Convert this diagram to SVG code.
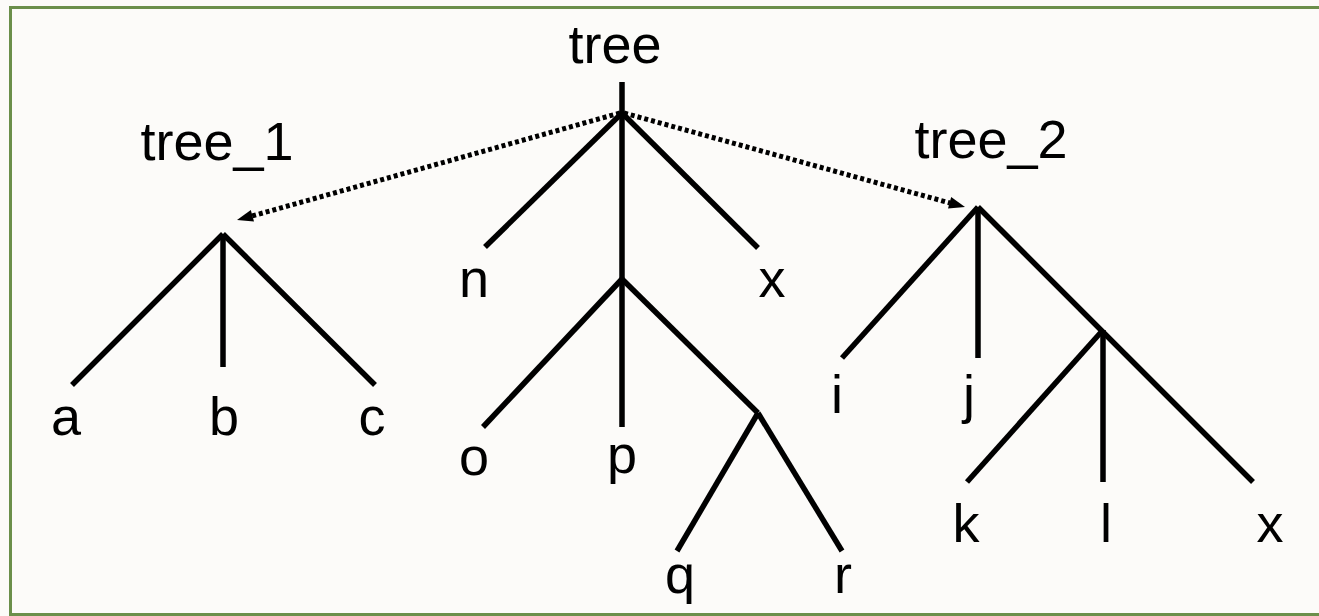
<svg xmlns="http://www.w3.org/2000/svg" width="1319" height="616" viewBox="0 0 1319 616">
<style>
.edge{stroke:#000;stroke-width:5.5;fill:none;stroke-linecap:butt}
.dot{stroke:#000;stroke-width:5;fill:none;stroke-dasharray:4 3}
.head{fill:#000}
text{font-family:"Liberation Sans",Arial,sans-serif;font-size:54px;fill:#000;text-anchor:middle}
</style>
<rect x="0" y="0" width="1319" height="616" fill="#fcfbf9"/>
<rect x="10.5" y="7.5" width="1320" height="607" fill="none" stroke="#6b8f4b" stroke-width="3"/>
<g id="connectors">
<path class="edge" d="M622,82 V427"/>
<path class="edge" d="M622,113 L485,247"/>
<path class="edge" d="M622,113 L758,248"/>
<path class="edge" d="M622,279 L483,427"/>
<path class="edge" d="M622,279 L758,413"/>
<path class="edge" d="M758,413 L677,551"/>
<path class="edge" d="M758,413 L842,551"/>
<path class="edge" d="M223,234 L72,385"/>
<path class="edge" d="M223,234 V367"/>
<path class="edge" d="M223,234 L375,385"/>
<path class="edge" d="M978,207 L842,358"/>
<path class="edge" d="M978,207 V358"/>
<path class="edge" d="M978,207 L1253,482"/>
<path class="edge" d="M1103,330 L967,482"/>
<path class="edge" d="M1103,330 V482"/>
<path class="dot" d="M620,113 L252,216"/>
<polygon class="head" points="237,220 254,221.5 250.8,209.9"/>
<path class="dot" d="M624,113 L950,203"/>
<polygon class="head" points="965,207 948,208.5 951.2,196.9"/>
</g>
<g id="tree"><text x="615" y="63">tree</text></g>
<g id="tree_1"><text x="217" y="160">tree_1</text></g>
<g id="tree_2"><text x="991" y="158">tree_2</text></g>
<g id="n"><text x="474" y="297">n</text></g>
<g id="x1"><text x="772" y="297">x</text></g>
<g id="a"><text x="66" y="435">a</text></g>
<g id="b"><text x="224" y="435">b</text></g>
<g id="c"><text x="372" y="435">c</text></g>
<g id="o"><text x="474" y="475">o</text></g>
<g id="p"><text x="622" y="473">p</text></g>
<g id="q"><text x="680" y="593">q</text></g>
<g id="r"><text x="843" y="593">r</text></g>
<g id="i"><text x="837" y="413">i</text></g>
<g id="j"><text x="969" y="413">j</text></g>
<g id="k"><text x="966" y="542">k</text></g>
<g id="l"><text x="1106" y="542">l</text></g>
<g id="x2"><text x="1270" y="542">x</text></g>
</svg>
